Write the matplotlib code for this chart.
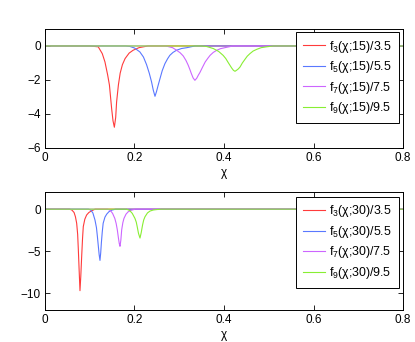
import matplotlib
matplotlib.use('Agg')
import matplotlib.pyplot as plt

plt.rcParams['font.family'] = ['Liberation Sans', 'DejaVu Sans']
plt.rcParams['mathtext.fontset'] = 'custom'
plt.rcParams['mathtext.rm'] = 'Liberation Sans'
plt.rcParams['font.size'] = 8.5

# top panel: beta = 15, curves
x15_f3 = [0, 0.10, 0.119, 0.128, 0.134, 0.140, 0.144, 0.149, 0.152, 0.155, 0.158, 0.160, 0.164, 0.168, 0.173, 0.179, 0.188, 0.197, 0.21, 0.23, 0.8]
y15_f3 = [0, 0, -0.05, -0.45, -0.94, -1.7, -2.3, -3.7, -4.4, -4.78, -4.2, -3.3, -2.3, -1.6, -1.1, -0.74, -0.42, -0.25, -0.1, 0, 0]
x15_f5 = [0, 0.18, 0.19, 0.200, 0.212, 0.220, 0.227, 0.233, 0.238, 0.242, 0.2458, 0.249, 0.253, 0.257, 0.262, 0.268, 0.274, 0.279, 0.286, 0.294, 0.305, 0.317, 0.335, 0.8]
y15_f5 = [0, 0, -0.03, -0.12, -0.35, -0.65, -1.1, -1.6, -2.1, -2.6, -2.96, -2.7, -2.3, -1.92, -1.45, -1.04, -0.75, -0.55, -0.38, -0.25, -0.15, -0.1, 0, 0]
x15_f7 = [0, 0.27, 0.285, 0.294, 0.302, 0.309, 0.315, 0.320, 0.324, 0.327, 0.331, 0.335, 0.339, 0.343, 0.346, 0.352, 0.358, 0.364, 0.369, 0.376, 0.384, 0.392, 0.402, 0.42, 0.8]
y15_f7 = [0, 0, -0.1, -0.25, -0.4, -0.59, -0.85, -1.13, -1.4, -1.62, -1.88, -2.02, -1.9, -1.7, -1.57, -1.25, -0.94, -0.72, -0.55, -0.38, -0.25, -0.16, -0.1, 0, 0]
x15_f9 = [0, 0.35, 0.361, 0.376, 0.388, 0.398, 0.404, 0.41, 0.417, 0.421, 0.4246, 0.428, 0.432, 0.436, 0.441, 0.447, 0.452, 0.458, 0.465, 0.473, 0.483, 0.495, 0.51, 0.8]
y15_f9 = [0, 0, -0.03, -0.15, -0.32, -0.55, -0.74, -1.0, -1.29, -1.43, -1.49, -1.43, -1.35, -1.23, -1.0, -0.78, -0.6, -0.45, -0.3, -0.2, -0.1, -0.05, 0, 0]

# bottom panel: beta = 30
x30_f3 = [0, 0.055, 0.06, 0.065, 0.068, 0.0708, 0.073, 0.0745, 0.0765, 0.0782, 0.080, 0.082, 0.084, 0.0856, 0.089, 0.093, 0.098, 0.104, 0.112, 0.8]
y30_f3 = [0, 0, -0.1, -0.4, -0.9, -1.68, -3.0, -4.8, -7.5, -9.7, -8.0, -5.6, -3.4, -2.07, -1.2, -0.7, -0.4, -0.2, 0, 0]
x30_f5 = [0, 0.097, 0.102, 0.107, 0.1117, 0.115, 0.117, 0.119, 0.121, 0.1229, 0.1245, 0.126, 0.128, 0.130, 0.134, 0.138, 0.143, 0.149, 0.158, 0.8]
y30_f5 = [0, 0, -0.1, -0.45, -1.29, -2.2, -3.2, -4.3, -5.4, -6.1, -5.2, -4.0, -2.7, -1.68, -0.95, -0.59, -0.3, -0.12, 0, 0]
x30_f7 = [0, 0.14, 0.146, 0.151, 0.156, 0.159, 0.1616, 0.164, 0.166, 0.1676, 0.1695, 0.1714, 0.174, 0.1765, 0.181, 0.186, 0.193, 0.202, 0.8]
y30_f7 = [0, 0, -0.15, -0.5, -1.1, -1.7, -2.46, -3.4, -4.1, -4.42, -3.7, -2.46, -1.6, -1.1, -0.6, -0.31, -0.12, 0, 0]
x30_f9 = [0, 0.182, 0.189, 0.195, 0.201, 0.204, 0.206, 0.209, 0.2123, 0.215, 0.218, 0.2205, 0.2235, 0.229, 0.2346, 0.2420, 0.2496, 0.26, 0.8]
y30_f9 = [0, 0, -0.15, -0.5, -1.1, -1.55, -2.07, -2.9, -3.44, -2.8, -1.9, -1.3, -0.9, -0.45, -0.23, -0.1, -0.05, 0, 0]

colors = ['#ff3b3b', '#5a78ff', '#cc66ff', '#88ee33']
orders = [3, 5, 7, 9]
divs = ['3.5', '5.5', '7.5', '9.5']

fig = plt.figure(figsize=(4.15, 3.42), dpi=100)
ax1 = fig.add_axes([0.1084, 0.5673, 0.8627, 0.348])
ax2 = fig.add_axes([0.1084, 0.0936, 0.8627, 0.344])

panels = [
    (ax1, '15', [(x15_f3, y15_f3), (x15_f5, y15_f5), (x15_f7, y15_f7), (x15_f9, y15_f9)], (-6, 1), [-6, -4, -2, 0], 0.975),
    (ax2, '30', [(x30_f3, y30_f3), (x30_f5, y30_f5), (x30_f7, y30_f7), (x30_f9, y30_f9)], (-12, 2), [-10, -5, 0], 0.963),
]

for ax, beta, curves, ylim, yticks, legtop in panels:
    for i in range(len(curves)):
        xs, ys = curves[i]
        lab = r'f$_{\mathregular{%d}}$(χ;%s)/%s' % (orders[i], beta, divs[i])
        ax.plot(xs, ys, color=colors[i], lw=0.8, label=lab)
    ax.set_xlim(0, 0.8)
    ax.set_ylim(*ylim)
    ax.set_xticks([0, 0.2, 0.4, 0.6, 0.8])
    ax.set_xticklabels(['0', '0.2', '0.4', '0.6', '0.8'])
    ax.set_yticks(yticks)
    ax.tick_params(direction='in', length=3.5, width=0.6, top=True, right=True, pad=3)
    for s in ax.spines.values():
        s.set_linewidth(0.7)
    ax.set_xlabel('χ', labelpad=2)
    leg = ax.legend(loc='upper right', bbox_to_anchor=(0.989, legtop), borderaxespad=0,
                    fancybox=False, edgecolor='black', framealpha=1, handlelength=1.8,
                    handletextpad=0.35, labelspacing=0.36, borderpad=0.55, fontsize=8.9)
    leg.get_frame().set_linewidth(0.7)

fig.savefig('out.png', dpi=100)
